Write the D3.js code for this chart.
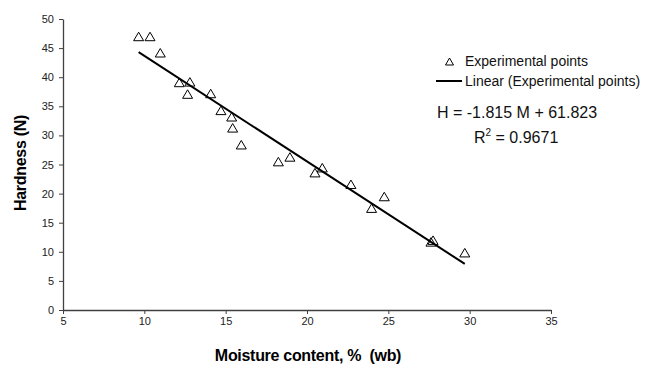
<!DOCTYPE html>
<html><head><meta charset="utf-8">
<script src="https://cdn.jsdelivr.net/npm/d3@7/dist/d3.min.js"></script>
<style>
html,body{margin:0;padding:0;background:#fff;}
text{font-family:"Liberation Sans",Arial,sans-serif;}
</style></head>
<body><svg id="c" width="661" height="366"></svg>
<script>
const moisture = [9.65,10.35,10.98,12.15,12.8,12.66,14.08,14.71,15.37,15.43,15.96,18.24,18.95,20.49,20.94,22.7,23.97,24.75,27.62,27.75,29.7];
const hardness = [47.0,47.0,44.2,39.1,39.2,37.1,37.2,34.3,33.2,31.3,28.4,25.5,26.3,23.6,24.45,21.6,17.5,19.5,11.7,12.0,9.85];
const slope = -1.815, intercept = 61.823;
const xTicks = [5,10,15,20,25,30,35];
const yTicks = [0,5,10,15,20,25,30,35,40,45,50];

const svg = d3.select("#c");
const x = d3.scaleLinear().domain([5,35]).range([63,551]);
const y = d3.scaleLinear().domain([0,50]).range([310,19]);

const axisColor = "#404040";
const gx = svg.append("g").attr("transform","translate(0,310)")
  .call(d3.axisBottom(x).tickValues(xTicks).tickSize(4).tickSizeOuter(0).tickPadding(3));
const gy = svg.append("g").attr("transform","translate(63,0)")
  .call(d3.axisLeft(y).tickValues(yTicks).tickSize(4).tickSizeOuter(0).tickPadding(5));
[gx,gy].forEach(g=>{
  g.select(".domain").attr("stroke",axisColor).attr("stroke-width",1.3);
  g.selectAll(".tick line").attr("stroke",axisColor);
  g.selectAll(".tick text").attr("fill","#222").style("font-size","11px").style("font-family","Liberation Sans, Arial, sans-serif");
});

// regression line
const xmin = d3.min(moisture), xmax = d3.max(moisture);
svg.append("line")
  .attr("x1",x(xmin)).attr("y1",y(slope*xmin+intercept))
  .attr("x2",x(xmax)).attr("y2",y(slope*xmax+intercept))
  .attr("stroke","#000").attr("stroke-width",2);

// triangles
function tri(cx,cy,w,h){return `M${cx},${cy-h/2}L${cx+w/2},${cy+h/2}L${cx-w/2},${cy+h/2}Z`;}
svg.append("g").selectAll("path").data(moisture.map((m,i)=>[m,hardness[i]])).join("path")
  .attr("d",d=>tri(x(d[0]),y(d[1]),10,8.5))
  .attr("fill","none").attr("stroke","#000").attr("stroke-width",1);

// legend
svg.append("path").attr("d",tri(449.5,61.5,8,7)).attr("fill","none").attr("stroke","#000").attr("stroke-width",1);
svg.append("text").attr("x",465).attr("y",65.5).style("font-size","14px").attr("fill","#111").text("Experimental points");
svg.append("line").attr("x1",436).attr("x2",462).attr("y1",81).attr("y2",81).attr("stroke","#000").attr("stroke-width",2);
svg.append("text").attr("x",465).attr("y",86).style("font-size","14px").attr("fill","#111").text("Linear (Experimental points)");
svg.append("text").attr("x",437).attr("y",117.5).style("font-size","16px").attr("fill","#111").text("H = -1.815 M + 61.823");
const r2 = svg.append("text").attr("x",474).attr("y",143).style("font-size","16px").attr("fill","#111");
r2.append("tspan").text("R");
r2.append("tspan").attr("dy",-7).style("font-size","10px").text("2");
r2.append("tspan").attr("dy",7).text(" = 0.9671");

// axis titles
svg.append("text").attr("x",308).attr("y",361).attr("text-anchor","middle")
  .style("font-size","16px").style("font-weight","bold").style("letter-spacing","-0.3px").style("white-space","pre").text("Moisture content, %  (wb)");
svg.append("text").attr("transform","translate(26,163) rotate(-90)").attr("text-anchor","middle")
  .style("font-size","16px").style("font-weight","bold").style("letter-spacing","-0.3px").text("Hardness (N)");
</script></body></html>
